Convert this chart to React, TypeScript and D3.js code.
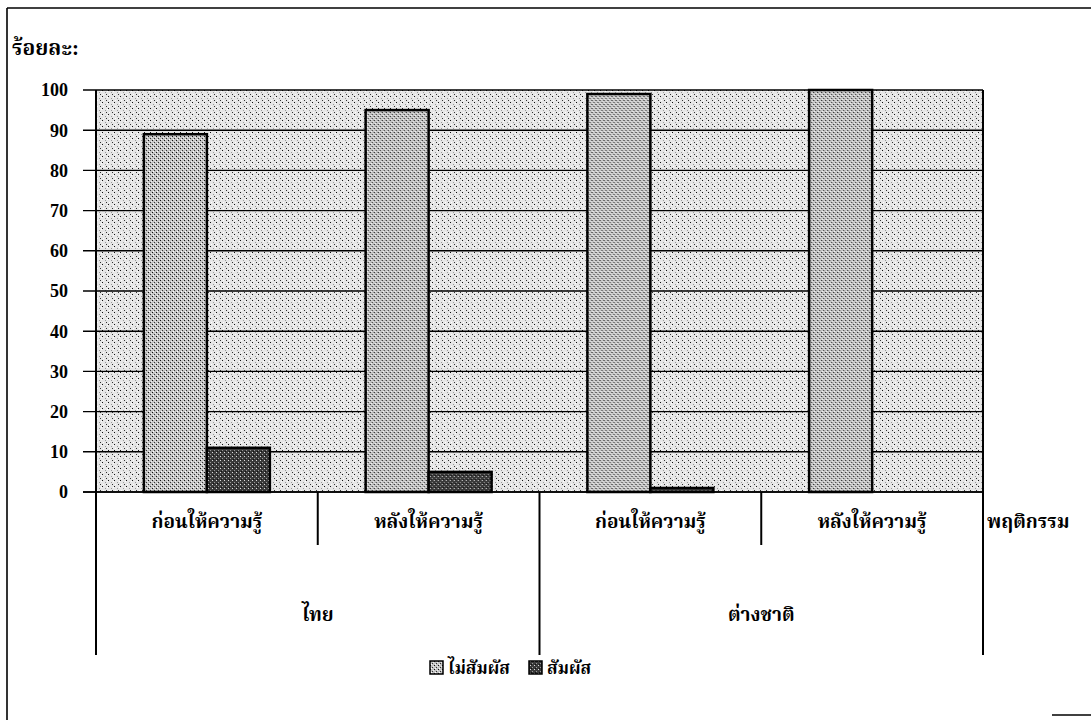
import React from "react";
import * as d3 from "d3";

const groups = ["ไทย", "ต่างชาติ"];
const phases = ["ก่อนให้ความรู้", "หลังให้ความรู้"];
const categories = ["ไทย|ก่อนให้ความรู้", "ไทย|หลังให้ความรู้", "ต่างชาติ|ก่อนให้ความรู้", "ต่างชาติ|หลังให้ความรู้"];
const seriesNames = ["ไม่สัมผัส", "สัมผัส"];
const notExposed = [89, 95, 99, 100];
const exposed = [11, 5, 1, 0];
const yTicks = [0, 10, 20, 30, 40, 50, 60, 70, 80, 90, 100];
const yTitle = "ร้อยละ:";
const xTitle = "พฤติกรรม";

const W = 1091;
const H = 720;
const plot = { left: 96, right: 983, top: 90, bottom: 492 };
const FONT = "'Liberation Serif', 'Noto Serif Thai', 'Noto Sans Thai', 'Times New Roman', serif";

export default function App() {
  const x0 = d3.scaleBand<string>().domain(categories).range([plot.left, plot.right]).padding(0);
  const x1 = d3.scaleBand<string>().domain(seriesNames).range([0, x0.bandwidth()]).paddingInner(0).paddingOuter(0.76);
  const y = d3.scaleLinear().domain([0, 100]).range([plot.bottom, plot.top]);
  const values = [notExposed, exposed];
  const fills = ["url(#pLight)", "url(#pDark)"];
  const groupCenters = groups.map((g, gi) => {
    const a = x0(categories[gi * 2])!;
    const b = x0(categories[gi * 2 + 1])! + x0.bandwidth();
    return (a + b) / 2;
  });
  const catBottom = 545;
  const groupBottom = 655;

  return (
    <svg width={W} height={H} style={{ position: "absolute", left: 0, top: 0, background: "#fff" }} fontFamily={FONT}>
      <defs>
        <pattern id="pBg" width="6" height="6" patternUnits="userSpaceOnUse">
          <rect width="6" height="6" fill="#e6e6e6" />
          <rect x="0" y="0" width="1" height="1" fill="#111" />
          <rect x="3" y="2" width="1" height="1" fill="#999" />
          <rect x="4" y="4" width="1" height="1" fill="#333" />
          <rect x="1" y="4" width="1" height="1" fill="#fff" />
          <rect x="5" y="1" width="1" height="1" fill="#fff" />
        </pattern>
        <pattern id="pLight" width="4" height="4" patternUnits="userSpaceOnUse">
          <rect width="4" height="4" fill="#c4c4c4" />
          <rect x="0" y="0" width="1" height="1" fill="#111" />
          <rect x="2" y="2" width="1" height="1" fill="#333" />
          <rect x="1" y="3" width="1" height="1" fill="#fff" />
          <rect x="3" y="1" width="1" height="1" fill="#eee" />
        </pattern>
        <pattern id="pDark" width="4" height="4" patternUnits="userSpaceOnUse">
          <rect width="4" height="4" fill="#3a3a3a" />
          <rect x="0" y="0" width="1" height="1" fill="#ddd" />
          <rect x="2" y="2" width="1" height="1" fill="#999" />
          <rect x="1" y="3" width="1" height="1" fill="#111" />
        </pattern>
      </defs>

      {/* outer frame (left, top, and a scrap of bottom-right) */}
      <line x1={7} x2={7} y1={8} y2={720} stroke="#000" strokeWidth={1.6} />
      <line x1={7} x2={1091} y1={8} y2={8} stroke="#000" strokeWidth={1.6} />
      <line x1={1052} x2={1091} y1={715} y2={715} stroke="#000" strokeWidth={1.4} />

      {/* plot background */}
      <rect x={plot.left} y={plot.top} width={plot.right - plot.left} height={plot.bottom - plot.top} fill="url(#pBg)" />

      {/* gridlines and ticks */}
      {yTicks.map((t) => (
        <g key={t}>
          <line x1={plot.left - 13} x2={plot.right} y1={y(t)} y2={y(t)} stroke="#000" strokeWidth={1.4} />
          <text x={68} y={y(t)} dy="0.35em" textAnchor="end" fontSize={18} fontWeight="bold" fill="#000">
            {t}
          </text>
        </g>
      ))}

      {/* bars */}
      {categories.map((c, ci) => (
        <g key={c} transform={`translate(${x0(c)},0)`}>
          {seriesNames.map((s, si) => {
            const v = values[si][ci];
            if (v <= 0) return null;
            return (
              <rect
                key={s}
                x={x1(s)}
                y={y(v)}
                width={x1.bandwidth()}
                height={y(0) - y(v)}
                fill={fills[si]}
                stroke="#000"
                strokeWidth={2.5}
              />
            );
          })}
        </g>
      ))}

      {/* axis lines */}
      <line x1={plot.left - 13} x2={plot.right} y1={plot.bottom} y2={plot.bottom} stroke="#000" strokeWidth={1.6} />
      <line x1={plot.left} x2={plot.left} y1={plot.top} y2={groupBottom} stroke="#000" strokeWidth={2} />
      <line x1={plot.right} x2={plot.right} y1={plot.top} y2={groupBottom} stroke="#000" strokeWidth={2} />
      {categories.slice(1).map((c, i) => (
        <line
          key={c}
          x1={x0(c)}
          x2={x0(c)}
          y1={plot.bottom}
          y2={i === 1 ? groupBottom : catBottom}
          stroke="#000"
          strokeWidth={2}
        />
      ))}

      {/* category labels */}
      {categories.map((c) => (
        <text key={c} x={x0(c)! + x0.bandwidth() / 2} y={528} textAnchor="middle" fontSize={19} fontWeight="bold" fill="#000">
          {c.split("|")[1]}
        </text>
      ))}
      {groups.map((g, gi) => (
        <text key={g} x={groupCenters[gi]} y={621} textAnchor="middle" fontSize={19} fontWeight="bold" fill="#000">
          {g}
        </text>
      ))}
      <text x={plot.right + 4} y={528} fontSize={19} fontWeight="bold" fill="#000">
        {xTitle}
      </text>

      {/* y title */}
      <text x={12} y={55} fontSize={21} fontWeight="bold" fill="#000">
        {yTitle}
      </text>

      {/* legend */}
      <g transform="translate(430,661)">
        <rect x={0} y={0} width={13} height={13} fill="url(#pLight)" stroke="#000" strokeWidth={1.5} />
        <text x={18} y={13} fontSize={17} fontWeight="bold" fill="#000">{seriesNames[0]}</text>
        <rect x={99} y={0} width={13} height={13} fill="url(#pDark)" stroke="#000" strokeWidth={1.5} />
        <text x={117} y={13} fontSize={17} fontWeight="bold" fill="#000">{seriesNames[1]}</text>
      </g>
    </svg>
  );
}
